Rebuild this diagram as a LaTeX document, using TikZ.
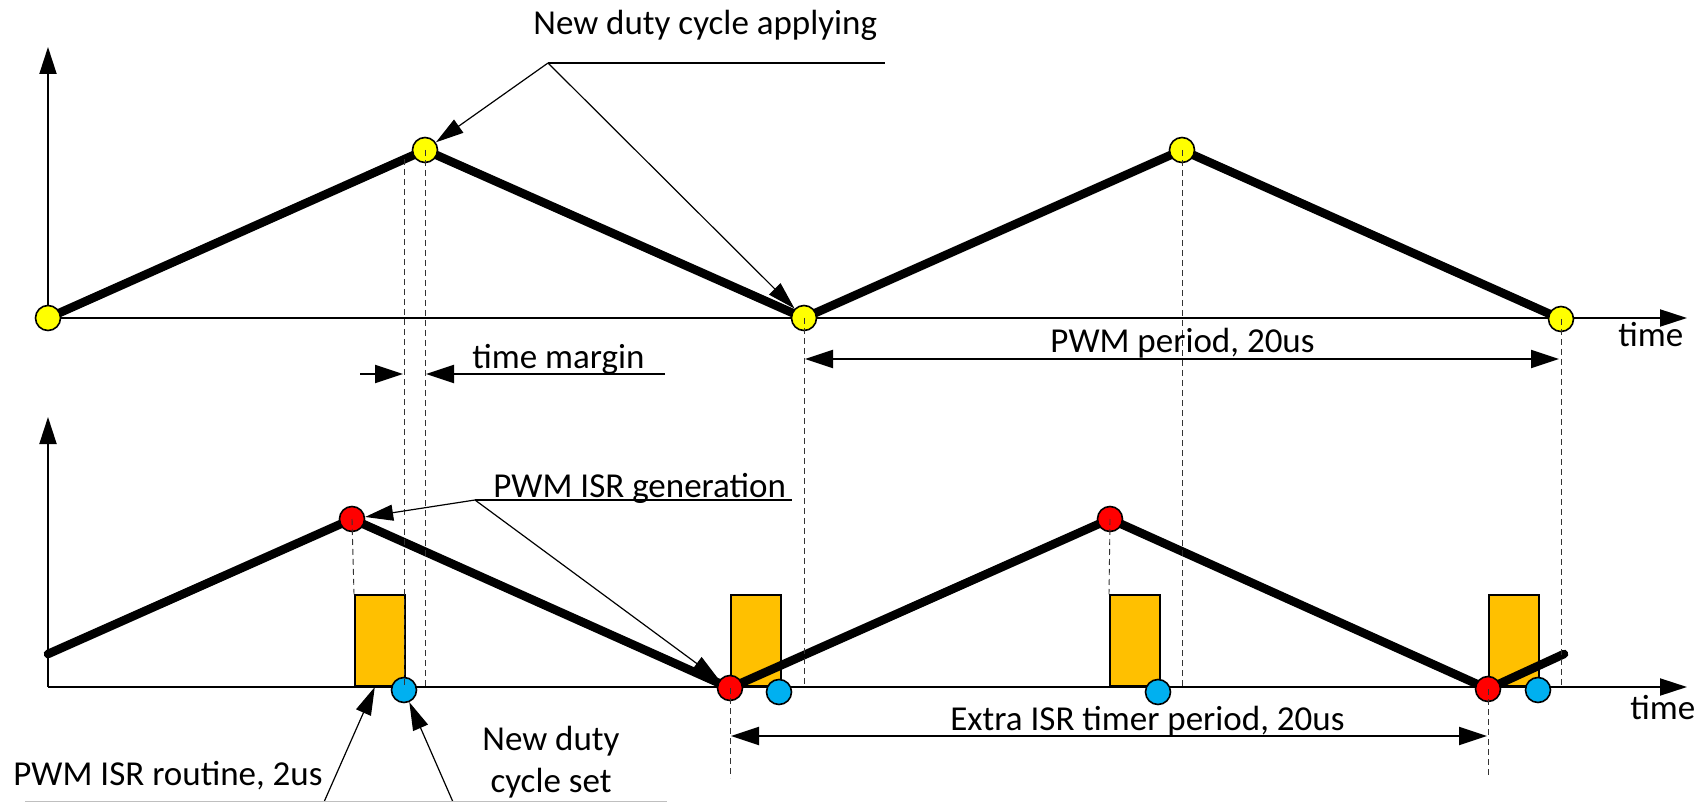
\documentclass[tikz,border=0pt]{standalone}
\usepackage{fontspec}
\setmainfont{Carlito}
\usetikzlibrary{arrows.meta}
\definecolor{dotyellow}{RGB}{255,255,0}
\definecolor{dotred}{RGB}{255,0,0}
\definecolor{dotblue}{RGB}{0,176,240}
\definecolor{isrorange}{RGB}{255,192,0}
\begin{document}
\begin{tikzpicture}[x=0.5pt,y=-0.5pt,
  dot/.style={circle,draw=black,line width=0.8pt,minimum size=12.5pt,inner sep=0pt},
  ydot/.style={dot,fill=dotyellow},
  rdot/.style={dot,fill=dotred},
  bdot/.style={dot,fill=dotblue},
  isr/.style={draw=black,line width=0.8pt,fill=isrorange,minimum width=25pt,minimum height=45.5pt,inner sep=0pt,anchor=south west},
  wave/.style={line width=4.3pt,line cap=round,line join=round},
  axis/.style={line width=1pt,-{Triangle[length=13.5pt,width=8.5pt]}},
  dimarrow/.style={line width=1pt,{Triangle[length=14pt,width=9pt]}-{Triangle[length=14pt,width=9pt]}},
  onearrow/.style={line width=1pt,-{Triangle[length=14pt,width=9pt]}},
  guide/.style={dash pattern=on 3pt off 2pt,line width=0.45pt,black!80},
  lead/.style={line width=0.6pt,-{Triangle[length=14pt,width=8pt]}},
  uline/.style={line width=0.8pt},
  lbl/.style={font=\fontsize{17.5}{21}\selectfont,inner sep=0pt,anchor=base west}
]
\useasboundingbox (0,0) rectangle (1698,802);

% ---------- top panel ----------
\coordinate (o1) at (48,318);
\coordinate (ytop1) at (48,47);
\coordinate (xend1) at (1687,318);
\draw[axis] (o1) -- (ytop1);
\draw[axis] (o1) -- (xend1);

\coordinate (Y1c) at (48,318);
\coordinate (Y2c) at (425,150);
\coordinate (Y3c) at (804,318);
\coordinate (Y4c) at (1182,150);
\coordinate (Y5c) at (1561,319);
\draw[wave] (Y1c) -- (Y2c) -- (Y3c) -- (Y4c) -- (Y5c);

% ---------- bottom panel ----------
\coordinate (o2) at (48,687);
\coordinate (ytop2) at (48,417);
\coordinate (xend2) at (1687,687);
\draw[axis] (o2) -- (ytop2);
\draw[axis] (o2) -- (xend2);

\node[isr] (I1) at (354,687) {};
\node[isr] (I2) at (730,687) {};
\node[isr] (I3) at (1109,687) {};
\node[isr] (I4) at (1488,687) {};

\coordinate (W0) at (48,654);
\coordinate (R1c) at (352,519);
\coordinate (R2c) at (730,688);
\coordinate (R3c) at (1110,519);
\coordinate (R4c) at (1488,689);
\coordinate (W5) at (1564,654);
\draw[wave] (W0) -- (R1c) -- (R2c) -- (R3c) -- (R4c) -- (W5);

% dots
\node[ydot] (Y1) at (Y1c) {};
\node[ydot] (Y2) at (Y2c) {};
\node[ydot] (Y3) at (Y3c) {};
\node[ydot] (Y4) at (Y4c) {};
\node[ydot] (Y5) at (Y5c) {};
\node[rdot] (R1) at (R1c) {};
\node[rdot] (R2) at (R2c) {};
\node[rdot] (R3) at (R3c) {};
\node[rdot] (R4) at (R4c) {};
\node[bdot] (B1) at (404,690) {};
\node[bdot] (B2) at (779,692) {};
\node[bdot] (B3) at (1158,692) {};
\node[bdot] (B4) at (1538,690) {};

% dashed guides
\draw[guide] (404,159) -- (404,687);
\draw[guide] (Y2c) -- (425,687);
\draw[guide] (Y3c) -- (804,687);
\draw[guide] (Y4c) -- (1182,687);
\draw[guide] (Y5c) -- (1561,687);
\draw[guide] (R1c) -- (I1.north west);
\draw[guide] (R3c) -- (I3.north west);
\draw[guide] (R2c) -- (730,778);
\draw[guide] (R4c) -- (1488,778);

% ---------- labels ----------
\node[lbl] (tNew) at (533,35) {New duty cycle applying};
\coordinate (kNew) at (548,63);
\coordinate (kNewEnd) at (885,63);
\draw[uline] (kNew) -- (kNewEnd);
\draw[lead] (kNew) -- (Y2);
\draw[lead] (kNew) -- (Y3);

\node[lbl] (tTime1) at (1618,347) {time};
\node[lbl] (tPer) at (1050,352) {PWM period, 20us};
\coordinate (pA) at (805,359);
\coordinate (pB) at (1559,359);
\draw[dimarrow] (pA) -- (pB);

\node[lbl] (tMar) at (472,369) {time margin};
\coordinate (mL) at (360,374);
\coordinate (mLt) at (403,374);
\coordinate (mRt) at (426,374);
\coordinate (mR) at (665,374);
\draw[onearrow] (mL) -- (mLt);
\draw[onearrow] (mR) -- (mRt);

\node[lbl] (tGen) at (493,497) {PWM ISR generation};
\coordinate (kGen) at (475,500);
\coordinate (kGenEnd) at (792,500);
\draw[uline] (kGen) -- (kGenEnd);
\draw[lead] (kGen) -- (R1);
\draw[lead] (kGen) -- (R2);

\node[lbl] (tTime2) at (1630,719) {time};
\node[lbl] (tExt) at (950,730) {Extra ISR timer period, 20us};
\coordinate (eA) at (731,736);
\coordinate (eB) at (1487,736);
\draw[dimarrow] (eA) -- (eB);

\node[lbl] (tRout) at (13,785) {PWM ISR routine, 2us};
\node[lbl,anchor=base] (tSet1) at (551,750) {New duty};
\node[lbl,anchor=base] (tSet2) at (551,792) {cycle set};
\coordinate (kRout) at (324,802);
\coordinate (kSet) at (453,802);
\draw[lead] (kRout) -- ([xshift=-2.5pt]I1.south);
\draw[lead] (kSet) -- (B1);
\coordinate (gl1) at (25,801);
\coordinate (gl2) at (667,801);
\draw[black!25,line width=0.5pt] (gl1) -- (gl2);
\end{tikzpicture}
\end{document}
